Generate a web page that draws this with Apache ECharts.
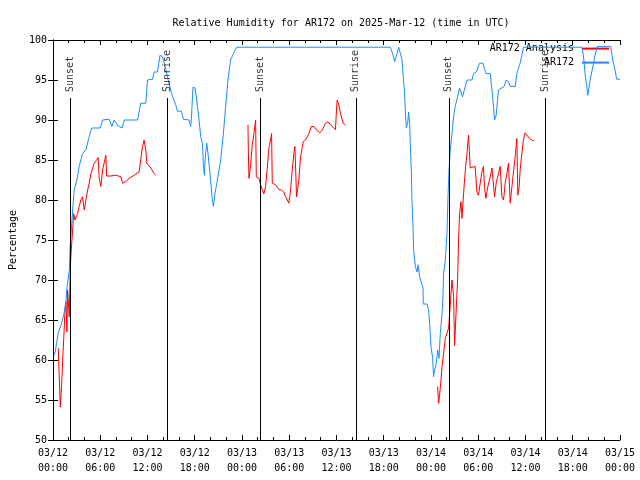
<!DOCTYPE html>
<html><head><meta charset="utf-8">
<script src="https://cdn.jsdelivr.net/npm/echarts@6/dist/echarts.min.js"></script>
<style>html,body{margin:0;padding:0;background:#fff}#c{width:640px;height:480px}</style>
</head><body><div id="c"></div>
<script>
// Hours since 2025-03-12 00:00 UTC
const obsHours = [0.13,0.29,0.47,0.67,1.01,1.36,1.65,1.77,2.07,2.19,2.50,2.70,3.04,3.33,3.76,4.18,4.60,4.91,6.00,6.30,7.14,7.48,7.77,8.28,8.78,9.04,10.74,11.15,11.79,12.00,12.64,12.84,13.27,13.60,13.91,14.20,14.54,15.05,15.59,15.81,16.31,16.57,17.28,17.49,17.58,17.78,18.04,18.25,18.55,18.76,18.98,19.10,19.23,19.31,19.52,19.69,19.94,20.24,20.37,20.57,20.88,21.30,21.64,21.93,22.22,22.56,22.91,23.32,42.85,43.19,43.39,43.69,43.90,44.11,44.33,44.45,44.62,44.75,44.87,45.04,45.16,45.29,45.38,45.51,45.59,45.72,45.80,46.01,46.23,46.36,46.56,46.74,46.99,47.01,47.50,47.70,47.83,48.00,48.21,48.33,48.46,48.68,48.84,49.02,49.18,49.40,49.53,49.60,49.82,50.03,50.16,50.29,50.45,50.67,50.87,51.08,51.38,51.63,51.81,52.01,52.23,52.57,53.20,53.41,53.75,54.17,54.60,54.76,55.01,55.52,55.74,55.94,56.07,56.28,56.57,56.79,57.29,57.55,57.84,58.06,58.69,58.90,59.11,59.32,59.54,59.74,67.15,67.35,67.56,67.78,67.91,68.07,68.29,68.61,68.83,69.12,70.82,71.08,71.37,71.58,72.0];
const obsValues = [60.6,61,62.2,63.4,64.3,65.6,67.3,69,71.2,74.2,78.75,81.25,82.5,84.2,85.8,86.25,87.9,89,89,90,90.1,89.2,90,89.25,89,90,90,92.1,92.1,95,95.1,96,96,98.1,97.9,96.9,95.4,93.3,91.9,91.1,91.1,90.1,90,89.2,90.2,94.1,94,92.5,90,87.9,87.1,84.2,83.1,85,87.1,85.8,83.3,80,79.2,80.8,82.5,85,88.3,91.7,95,97.5,98.3,99.1,99.1,98.1,97.3,98.3,99.1,99.1,97.5,95.8,93.75,91,89,89.6,91,89.6,86.7,83.5,79.8,76.5,73.75,71.7,71,71.9,70.4,69.8,69,67,67,66.25,64.6,61.7,60.2,57.9,58.75,59.6,61.25,60.2,63.3,65.8,68.3,70.8,72.5,75.8,80.4,83.75,86.25,88.3,90.4,91.7,92.9,94,93.75,92.9,93.75,95,95,95.8,96,97.1,97.1,96.5,95.8,95.8,93.75,91.7,90,90.6,93.75,94,94.2,95,94.8,94.2,94.2,95.8,96.5,97.1,98.1,99.1,99.1,98.1,95.8,94.2,93.1,94.2,95.4,96.9,98.1,99.2,99.2,97.5,96.25,95.1,95.1];

const anaHours = [0.67,0.89,0.93,1.01,1.14,1.23,1.36,1.52,1.65,1.77,1.86,2.07,2.19,2.28,2.50,2.62,2.79,3.13,3.33,3.55,3.76,3.97,4.18,4.40,4.60,4.82,5.24,5.74,5.87,6.08,6.30,6.72,6.81,7.35,7.99,8.62,8.84,9.25,9.67,10.31,10.94,11.15,11.37,11.57,11.70,11.79,11.92,12.42,12.84,13.06,
  18.0,
  24.76,24.81,24.89,25.10,25.31,25.52,25.73,25.82,26.15,26.37,26.58,26.78,27.00,27.21,27.42,27.63,27.76,27.85,28.27,28.69,28.99,29.32,29.53,29.95,30.17,30.38,30.59,30.72,30.93,31.22,31.44,31.78,32.07,32.49,32.79,33.12,33.46,33.88,34.19,34.61,34.90,35.24,35.87,36.00,36.09,36.29,36.51,36.85,37.14,
  42.0,
  48.84,48.97,49.09,49.27,49.40,49.60,49.82,50.03,50.24,50.37,50.45,50.54,50.67,50.87,51.00,51.21,51.38,51.50,51.63,51.81,51.94,52.06,52.23,52.40,52.57,52.77,52.98,53.20,53.61,53.83,54.03,54.25,54.46,54.66,54.79,54.97,55.22,55.52,55.74,55.94,56.07,56.28,56.57,56.79,57.00,57.21,57.42,57.64,57.84,58.06,58.28,58.48,58.69,58.90,59.03,59.20,59.32,59.54,59.74,59.95,60.17,60.50,60.81,61.10];
const anaValues = [61.5,61.5,54.1,55.4,57.7,60,62.5,66,67.3,63.5,68.75,65.4,71.25,73.1,76.25,78.3,77.5,78.3,79.2,80,80.4,78.75,80,81.25,82.1,83.3,84.6,85.3,82.7,81.7,83.75,85.6,83,83,83.1,82.9,82.1,82.3,82.7,83.1,83.5,83.75,86.7,87.5,87.6,86.25,84.6,84,83.3,83.1,
  null,
  89.4,86,82.7,84.4,86.9,88.3,90,82.9,82.7,81.9,81.25,80.75,81.7,84,86.5,87.5,88.3,82.1,81.9,81.3,81.25,81,80.4,79.6,81.25,83.75,85.8,86.7,80.4,82.5,85.4,87.3,87.5,88.3,89.2,89.2,88.75,88.4,88.75,89.6,89.8,89.4,88.8,91.25,92.5,91.9,90.8,89.6,89.4,
  null,
  56.7,54.6,55.6,57.5,59.2,60.8,62.7,62.5,64,65.8,66.9,68.3,70,67.9,61.8,66.5,70,75,78.3,79.8,77.7,79.6,82.1,84.2,85.8,88.1,84,83.75,84.2,81,80.6,82.1,83.5,84.2,81.7,80.2,81.7,82.9,84,84.2,80.4,82.1,83.3,84.2,80.4,80,82.1,83.3,84.6,79.6,81.7,83.5,85.4,87.7,80.6,81.7,83.75,85.8,87.5,88.4,88.4,87.7,87.5,87.4];

const sunEventNames = ['Sunset','Sunrise','Sunset','Sunrise','Sunset','Sunrise'];
const sunEventHours = [2.19,14.49,26.28,38.45,50.26,62.53];
const sunLineTop = 92.75;
const sunLabelAt = 93.5;

const seriesNames = ['AR172 Analysis','AR172'];
const yTicks = {min:50, max:100, step:5};
const xTicks = {min:0, max:72, step:6};

const FONT = 'DejaVu Sans Mono';
const pad = n => (n < 10 ? '0' : '') + n;
const xLabel = v => {
  const d = 12 + Math.floor(v / 24);
  const h = Math.round(v % 24);
  return '03/' + pad(d) + '\n' + pad(h) + ':00';
};

const obsData = obsHours.map((h, i) => [h, obsValues[i]]);
const anaData = anaHours.map((h, i) => [h, anaValues[i] == null ? '-' : anaValues[i]]);
const sunData = sunEventHours.map((h, i) => ({ value: [h, sunLabelAt], name: sunEventNames[i] }));

const chart = echarts.init(document.getElementById('c'), null, { renderer: 'canvas' });
const axisCommon = {
  axisLine: { show: true, lineStyle: { color: '#000', width: 1 } },
  axisTick: { show: true, inside: true, length: 5, lineStyle: { color: '#000' } },
  splitLine: { show: false },
};
const legendCommon = {
  right: 30, align: 'right', itemWidth: 27, itemHeight: 14, padding: 0, selectedMode: false,
  itemStyle: { color: 'rgba(0,0,0,0)', borderColor: 'rgba(0,0,0,0)', borderWidth: 0, opacity: 0 },
  textStyle: { fontFamily: FONT, fontSize: 10, color: '#000', padding: [0, 3, 0, 0] }
};
chart.setOption({
  animation: false,
  backgroundColor: '#fff',
  title: {
    text: 'Relative Humidity for AR172 on 2025-Mar-12 (time in UTC)',
    left: 336, top: 13, textAlign: 'center',
    textStyle: { fontFamily: FONT, fontSize: 10, fontWeight: 'normal', color: '#000' }
  },
  legend: [
    Object.assign({}, legendCommon, { data: [seriesNames[0]], top: 43 }),
    Object.assign({}, legendCommon, { data: [seriesNames[1]], top: 57 })
  ],
  grid: { left: 52, right: 20, top: 40, bottom: 40, containLabel: false },
  xAxis: [
    Object.assign({}, axisCommon, {
      type: 'value', min: xTicks.min, max: xTicks.max, interval: xTicks.step, position: 'bottom',
      minorTick: { show: true, splitNumber: 3, length: 3, lineStyle: { color: '#000' } },
      axisLabel: { formatter: xLabel, fontFamily: FONT, fontSize: 10, color: '#000', lineHeight: 15, margin: 6,
        showMinLabel: true, showMaxLabel: true, hideOverlap: false }
    }),
    Object.assign({}, axisCommon, {
      type: 'value', min: xTicks.min, max: xTicks.max, interval: xTicks.step, position: 'top',
      minorTick: { show: true, splitNumber: 3, length: 3, lineStyle: { color: '#000' } },
      axisLabel: { show: false }
    })
  ],
  yAxis: [
    Object.assign({}, axisCommon, {
      type: 'value', min: yTicks.min, max: yTicks.max, interval: yTicks.step, position: 'left',
      name: 'Percentage', nameLocation: 'middle', nameGap: 34, nameRotate: 90,
      nameTextStyle: { fontFamily: FONT, fontSize: 10, color: '#000' },
      axisLabel: { fontFamily: FONT, fontSize: 10, color: '#000', margin: 6 }
    }),
    Object.assign({}, axisCommon, {
      type: 'value', min: yTicks.min, max: yTicks.max, interval: yTicks.step, position: 'right',
      axisLabel: { show: false }
    })
  ],
  series: [
    {
      name: seriesNames[0], type: 'line', data: anaData, symbol: 'none', connectNulls: false,
      lineStyle: { color: '#ff0000', width: 1 }, itemStyle: { color: '#ff0000' }, z: 3, silent: true
    },
    {
      name: seriesNames[1], type: 'line', data: obsData, symbol: 'none',
      lineStyle: { color: '#1a8cff', width: 1 }, itemStyle: { color: '#1a8cff' }, z: 4, silent: true
    },
    {
      name: 'sun', type: 'scatter', data: sunData, symbolSize: 0, silent: true, z: 5,
      label: { show: true, position: 'inside', formatter: p => p.name, rotate: 90, align: 'left', verticalAlign: 'middle',
        fontFamily: FONT, fontSize: 10, color: '#000' },
      markLine: {
        silent: true, symbol: ['none', 'none'], animation: false,
        label: { show: false },
        lineStyle: { color: '#000', width: 1, type: 'solid' },
        data: sunEventHours.map(h => [{ coord: [h, sunLineTop] }, { coord: [h, yTicks.min] }])
      }
    }
  ]
});
</script>
</body></html>
